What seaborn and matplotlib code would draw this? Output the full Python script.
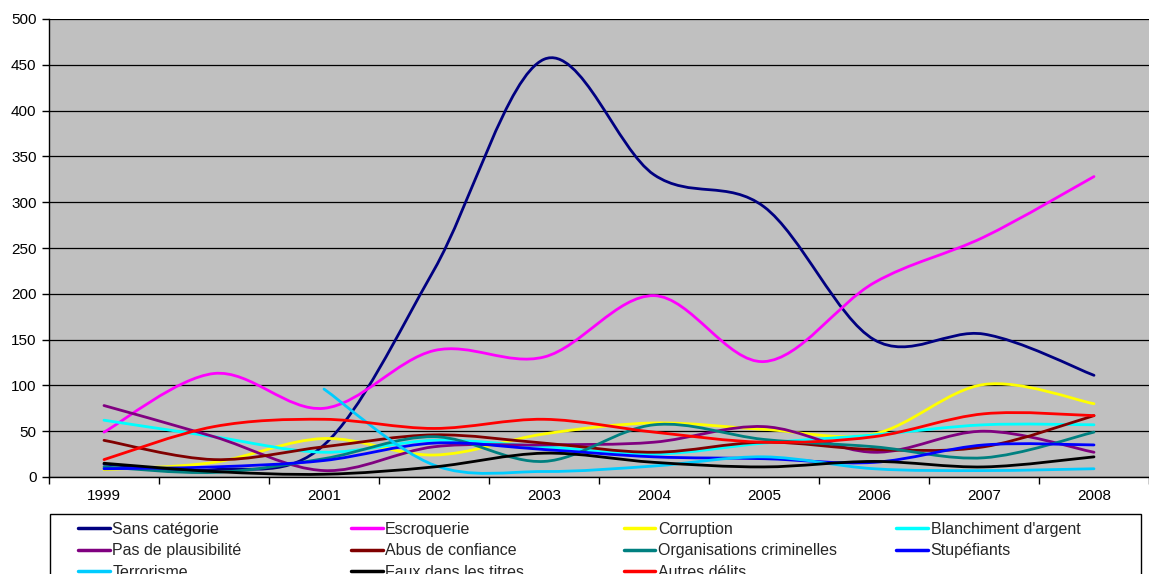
import numpy as np
import pandas as pd
import matplotlib
matplotlib.use("Agg")
import matplotlib.pyplot as plt
from matplotlib.path import Path
from matplotlib.patches import PathPatch, Rectangle
from matplotlib.lines import Line2D
import seaborn as sns

years = ["1999", "2000", "2001", "2002", "2003", "2004", "2005", "2006", "2007", "2008"]

sans_categorie = [14, 8, 35, 226, 456, 330, 295, 150, 156, 111]
escroquerie = [49, 113, 75, 138, 131, 198, 126, 212, 262, 328]
corruption = [8, 16, 42, 24, 47, 59, 52, 47, 101, 80]
blanchiment = [62, 44, 27, 40, 33, 25, 37, 46, 57, 57]
plausibilite = [78, 44, 7, 33, 35, 38, 55, 27, 50, 27]
abus_confiance = [40, 19, 33, 46, 37, 27, 38, 30, 33, 67]
organisations = [11, 5, 20, 44, 17, 57, 41, 33, 21, 49]
stupefiants = [9, 11, 18, 37, 30, 22, 20, 16, 35, 35]
terrorisme = [None, None, 96, 13, 6, 12, 22, 9, 7, 9]
faux_titres = [15, 6, 3, 11, 26, 16, 11, 17, 11, 22]
autres_delits = [19, 55, 63, 53, 63, 49, 38, 44, 69, 67]

series_names = ["Sans catégorie", "Escroquerie", "Corruption", "Blanchiment d'argent",
                "Pas de plausibilité", "Abus de confiance", "Organisations criminelles",
                "Stupéfiants", "Terrorisme", "Faux dans les titres", "Autres délits"]
series_values = [sans_categorie, escroquerie, corruption, blanchiment, plausibilite,
                 abus_confiance, organisations, stupefiants, terrorisme, faux_titres,
                 autres_delits]
colors = ["#000080", "#FF00FF", "#FFFF00", "#00FFFF", "#800080", "#800000",
          "#008080", "#0000FF", "#00CCFF", "#000000", "#FF0000"]

df = pd.DataFrame({name: vals for name, vals in zip(series_names, series_values)}, index=years)
df = df.astype(float)

sns.set_theme(style="white")
plt.rcParams['font.family'] = ['Liberation Sans', 'DejaVu Sans']

W, H = 1149, 574
fig = plt.figure(figsize=(W / 100, H / 100), dpi=100)
ax = fig.add_axes([49 / W, 97 / H, 1100 / W, 458 / H])
ax.set_facecolor("#C0C0C0")


def smooth_path(xs, ys):
    """Excel-style smoothed line: cubic Bezier segments through data points."""
    pts = np.column_stack([xs, ys])
    n = len(pts)
    verts = [tuple(pts[0])]
    codes = [Path.MOVETO]
    for i in range(n - 1):
        p0 = pts[i - 1] if i > 0 else pts[i]
        p1 = pts[i]
        p2 = pts[i + 1]
        p3 = pts[i + 2] if i + 2 < n else pts[i + 1]
        c1 = p1 + (p2 - p0) / 6.0
        c2 = p2 - (p3 - p1) / 6.0
        verts += [tuple(c1), tuple(c2), tuple(p2)]
        codes += [Path.CURVE4] * 3
    return Path(verts, codes)


x_pos = np.arange(len(years), dtype=float)
for name, col in zip(series_names, colors):
    y = df[name].to_numpy()
    mask = ~np.isnan(y)
    path = smooth_path(x_pos[mask], y[mask])
    patch = PathPatch(path, facecolor="none", edgecolor=col, lw=2.0,
                      capstyle="round", joinstyle="round", zorder=3)
    ax.add_patch(patch)

ax.set_xlim(-0.5, len(years) - 0.5)
ax.set_ylim(0, 500)
ax.set_yticks(np.arange(0, 501, 50))
ax.yaxis.grid(True, color="#000000", lw=0.9)
ax.xaxis.grid(False)
ax.set_axisbelow(True)

ax.set_xticks(x_pos)
ax.set_xticklabels(years)
ax.set_xticks(np.arange(-0.5, len(years) + 0.5, 1.0), minor=True)
ax.tick_params(axis="x", which="major", length=0, pad=9, labelsize=11, colors="#000000")
ax.tick_params(axis="x", which="minor", length=5, width=1, color="#000000", direction="out")
ax.tick_params(axis="y", which="major", length=5, width=1, color="#000000", direction="out",
               labelsize=11, labelcolor="#000000", pad=4)
ax.yaxis.set_tick_params(left=True)
ax.xaxis.set_tick_params(which="minor", bottom=True)

for s in ["top", "right"]:
    ax.spines[s].set_visible(False)
for s in ["left", "bottom"]:
    ax.spines[s].set_visible(True)
    ax.spines[s].set_color("#000000")
    ax.spines[s].set_linewidth(1.0)

# Legend: frame box + 4 equal-width columns (entries filled row by row)
box_left, box_right, box_top = 50, 1141, 514
fig.add_artist(Rectangle((box_left / W, -0.05), (box_right - box_left) / W,
                         1 - box_top / H + 0.05, transform=fig.transFigure,
                         facecolor="white", edgecolor="#000000", lw=1.0, zorder=1))
ncol = 4
col_w = (box_right - box_left) / ncol
handles = [Line2D([0], [0], color=c, lw=2.5) for c in colors]
for c in range(ncol):
    idx = list(range(c, len(series_names), ncol))
    lg = fig.legend([handles[i] for i in idx], [series_names[i] for i in idx],
                    loc="upper left",
                    bbox_to_anchor=((box_left + 28 + c * col_w) / W, 1 - 522 / H),
                    fontsize=11.5, handlelength=2.0, handletextpad=0.15,
                    labelspacing=0.4, borderaxespad=0, borderpad=0,
                    frameon=False)
    lg.set_zorder(2)

fig.savefig("out.png", dpi=100)
